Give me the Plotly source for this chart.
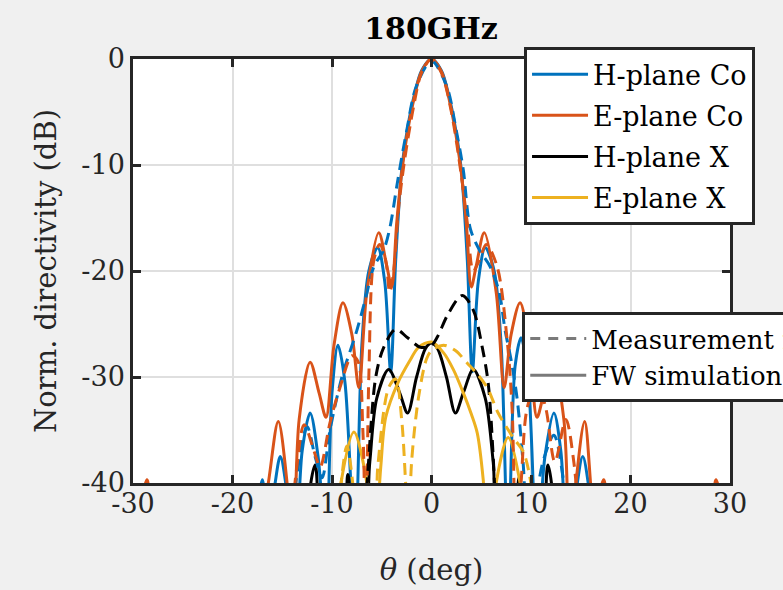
import plotly.graph_objects as go

# ---------------- data ----------------
x_ticks = [-30, -20, -10, 0, 10, 20, 30]
x_ticklabels = ["-30", "-20", "-10", "0", "10", "20", "30"]
y_ticks = [-40, -30, -20, -10, 0]
y_ticklabels = ["-40", "-30", "-20", "-10", "0"]

# H-plane Co, FW simulation (solid blue)
theta_h_co_fw = [-17.5, -17.0, -16.5, -15.9, -15.2, -14.5, -13.7, -13.0, -12.2, -11.4, -10.6, -10.0, -9.4, -8.7,
                 -7.7, -7.0, -6.3, -5.4, -4.7, -4.1, -3.6, -3.0, -2.4, -1.7, -1.0, 0.0, 1.0, 1.7, 2.4, 3.0, 3.6,
                 4.1, 4.7, 5.4, 6.3, 7.0, 7.7, 8.4, 9.0, 9.7, 10.6, 11.4, 12.3, 13.0, 13.7, 14.5, 15.2, 15.9, 16.5]
db_h_co_fw = [-43, -39.7, -43, -41, -37.5, -41, -47, -37, -33.4, -37.5, -46, -31.5, -27.0, -30.5,
              -46, -27, -20, -17.8, -21, -29.5, -19, -10.5, -6.5, -3.3, -1.1, 0.0, -1.1, -3.3, -6.5, -10.5, -19,
              -29.5, -21, -17.8, -20, -27, -46, -29, -26.3, -30, -46, -37.5, -33.4, -37, -47, -41, -37.5, -41, -46]

# E-plane Co, FW simulation (solid orange)
theta_e_co_fw = [-29.4, -28.6, -27.8, -22.0, -17.8, -16.4, -15.4, -14.4, -13.9, -13.3, -12.2, -11.3, -10.6, -9.8,
                 -8.9, -8.0, -7.3, -6.5, -5.3, -4.5, -4.0, -3.5, -2.9, -2.0, -1.0, 0.0, 1.0, 2.0, 2.9, 3.5, 4.0,
                 4.5, 5.3, 6.5, 7.3, 8.0, 8.9, 9.8, 10.6, 11.3, 12.2, 13.3, 13.9, 14.4, 15.4, 16.4, 17.3, 18.0,
                 22.0, 27.8, 28.6, 29.4]
db_e_co_fw = [-44, -39.7, -44, -50, -48, -40, -34.2, -41, -46, -34, -28.6, -31.5, -33.8, -27,
              -23.0, -26, -31, -22, -16.4, -19.5, -21.5, -15.5, -10, -4.8, -1.2, 0.0, -1.2, -4.8, -10, -15.5, -21.5,
              -19.5, -16.4, -22, -31, -26, -23.0, -27, -33.8, -31.5, -28.6, -34, -46, -41, -34.2, -43, -39.7, -44,
              -50, -44, -39.7, -44]

# H-plane X, FW simulation (solid black)
theta_h_x_fw = [-12.8, -11.7, -10.8, -9.0, -8.4, -7.8, -6.7, -6.2, -5.5, -4.3, -3.2, -2.4, -1.5, -0.6, 0.0,
                0.6, 1.5, 2.4, 3.2, 4.2, 5.4, 6.2, 6.7, 8.2, 8.8, 9.4, 10.9, 11.7, 12.6]
db_h_x_fw = [-45, -38.3, -45, -44, -39.2, -44, -43, -38, -32, -29.3, -31.5, -33.4, -30, -27.3, -26.8,
             -27.3, -30, -33.4, -31.5, -29.3, -32, -38, -43, -44, -39.5, -44, -45, -38.3, -45]

# E-plane X, FW simulation (solid yellow)
theta_e_x_fw = [-9.6, -9.1, -7.8, -6.5, -6.1, -5.5, -5.1, -4.6, -3.4, -2.2, -1.3, 0.0, 1.2, 2.2, 3.2, 4.0,
                4.6, 5.2, 5.6, 6.1, 6.5, 7.7, 8.9, 9.4]
db_e_x_fw = [-45, -40, -35.2, -40, -45, -43, -38.5, -33.8, -30.6, -28.5, -27.2, -26.7, -27.7, -29.3, -31.5, -33.5,
             -35.3, -39.7, -45, -45, -40, -35.7, -40, -45]

# H-plane Co, measurement (dashed blue)
theta_h_co_meas = [-14.3, -13.5, -12.5, -11.7, -11.0, -10.2, -9.0, -7.5, -6.6, -5.8, -4.8, -4.2, -3.4, -2.5,
                   -1.5, 0.0, 1.5, 2.5, 3.2, 3.9, 4.8, 5.9, 6.8, 7.4, 8.0, 8.6, 9.2, 9.7, 10.4, 11.2, 12.3,
                   13.3, 14.0]
db_h_co_meas = [-46, -39, -34.7, -37.5, -39.5, -35, -30, -25.6, -22.5, -19.6, -18.0, -16, -11.5, -6.8,
                -2.5, -0.2, -2.5, -6.8, -10.5, -16, -18, -19.6, -22, -25.6, -28.4, -32, -38, -44, -42, -38, -35.5,
                -40, -46]

# E-plane Co, measurement (dashed orange)
theta_e_co_meas = [-14.3, -13.6, -12.8, -11.8, -11.2, -10.2, -9.2, -8.0, -7.4, -6.9, -6.6, -6.3, -5.8, -5.2,
                   -4.6, -4.2, -3.8, -3.3, -2.7, -1.8, -1.0, 0.0, 1.0, 2.0, 3.0, 3.6, 4.2, 4.8, 5.5, 6.6, 7.6,
                   8.1, 8.5, 9.0, 9.6, 10.6, 11.5, 12.4, 13.5, 14.3, 15.0]
db_e_co_meas = [-46, -39, -34.5, -37, -38.5, -34.3, -31, -28, -28.5, -35, -46, -30, -19, -17.5,
                -19, -22, -20, -14, -9.5, -4.5, -1.3, 0.0, -1.3, -5, -11, -15.5, -20, -19, -17.5, -19.6, -26.5,
                -33, -46, -40, -33, -30.5, -33, -38, -34, -38, -46]

# H-plane X, measurement (dashed black)
theta_h_x_meas = [-6.9, -6.4, -5.6, -4.8, -3.6, -2.4, -1.1, 0.0, 0.6, 1.7, 3.1, 4.2, 5.1, 5.7, 6.2, 6.6]
db_h_x_meas = [-46, -39, -30, -27.2, -25.5, -26.3, -27.2, -27, -26.2, -24, -22.3, -23.7, -27.2, -30.6, -37.5, -46]

# E-plane X, measurement (dashed yellow)
theta_e_x_meas = [-9.7, -9.2, -8.5, -7.8, -7.3, -5.9, -5.4, -4.3, -3.6, -3.0, -2.6, -2.3, -2.0, -1.3, -0.5,
                  0.0, 1.2, 2.4, 3.6, 4.4, 5.6, 6.7, 8.2, 9.2, 9.8, 10.4]
db_e_x_meas = [-46, -41, -36.5, -41, -46, -46, -38.5, -31, -30.2, -34, -40, -45, -38, -31.9, -28.3,
               -27.5, -27, -27.5, -28.7, -29.5, -31, -33.4, -35.7, -37, -39, -43]

legend1_names = ["H-plane Co", "E-plane Co", "H-plane X", "E-plane X"]
legend2_names = ["Measurement results", "FW simulation"]

# ---------------- styling ----------------
c_blue, c_orange, c_black, c_yellow = "#0072BD", "#D95319", "#000000", "#EDB120"
FONT = "DejaVu Serif"
AX = "#262626"
DASH = "12px,7px"
LW = 3

fig = go.Figure()

solid = [(theta_h_co_fw, db_h_co_fw, c_blue), (theta_e_co_fw, db_e_co_fw, c_orange),
         (theta_h_x_fw, db_h_x_fw, c_black), (theta_e_x_fw, db_e_x_fw, c_yellow)]
dashed = [(theta_h_co_meas, db_h_co_meas, c_blue), (theta_e_co_meas, db_e_co_meas, c_orange),
          (theta_h_x_meas, db_h_x_meas, c_black), (theta_e_x_meas, db_e_x_meas, c_yellow)]

for (x, y, c), name in zip(solid, legend1_names):
    fig.add_trace(go.Scatter(x=x, y=y, mode="lines", name=name, legend="legend",
                             legendgroup=name,
                             line=dict(color=c, width=LW, shape="spline", smoothing=0.9)))
for (x, y, c), name in zip(dashed, legend1_names):
    fig.add_trace(go.Scatter(x=x, y=y, mode="lines", name=name + " meas", showlegend=False,
                             line=dict(color=c, width=LW, dash=DASH, shape="spline", smoothing=0.9)))

# second legend (line style key)
fig.add_trace(go.Scatter(x=[None], y=[None], mode="lines", name=legend2_names[0], legend="legend2",
                         line=dict(color="#7a7a7a", width=LW, dash="10px,8px")))
fig.add_trace(go.Scatter(x=[None], y=[None], mode="lines", name=legend2_names[1], legend="legend2",
                         line=dict(color="#7a7a7a", width=LW)))

axis_common = dict(showline=True, linecolor=AX, linewidth=2.5, mirror="ticks",
                   ticks="inside", ticklen=8, tickwidth=2.5, tickcolor=AX,
                   showgrid=True, gridcolor="#dfdfdf", gridwidth=2, zeroline=False,
                   tickfont=dict(family=FONT, size=27, color=AX))

fig.update_xaxes(range=[-30, 30], tickvals=x_ticks, ticktext=x_ticklabels,
                 title=dict(text="<i>θ</i> (deg)", font=dict(family=FONT, size=29, color=AX), standoff=42),
                 ticklabelstandoff=-5, **axis_common)
fig.update_yaxes(range=[-40, 0], tickvals=y_ticks, ticktext=y_ticklabels,
                 title=dict(text="Norm. directivity (dB)", font=dict(family=FONT, size=29, color=AX), standoff=17),
                 ticklabelstandoff=0, **axis_common)

fig.update_layout(
    width=783, height=590,
    paper_bgcolor="#f0f0f0", plot_bgcolor="#ffffff",
    margin=dict(l=133, r=53, t=59, b=107, autoexpand=False),
    title=dict(text="<b>180GHz</b>", font=dict(family=FONT, size=30, color="#000000"),
               x=431 / 783, xanchor="center", xref="container",
               y=1 - 28 / 590, yanchor="middle", yref="container"),
    legend=dict(x=0.655, y=1.028, xanchor="left", yanchor="top", bgcolor="#ffffff",
                bordercolor=AX, borderwidth=3, font=dict(family=FONT, size=27, color="#000000"),
                tracegroupgap=3, itemwidth=56),
    legend2=dict(x=0.652, y=0.403, xanchor="left", yanchor="top", bgcolor="#ffffff",
                 bordercolor=AX, borderwidth=3, font=dict(family=FONT, size=26, color="#000000"),
                 itemwidth=56),
    showlegend=True,
)

fig.write_html("out.html", config={"displayModeBar": False},
               post_script="document.body.style.margin='0';")
